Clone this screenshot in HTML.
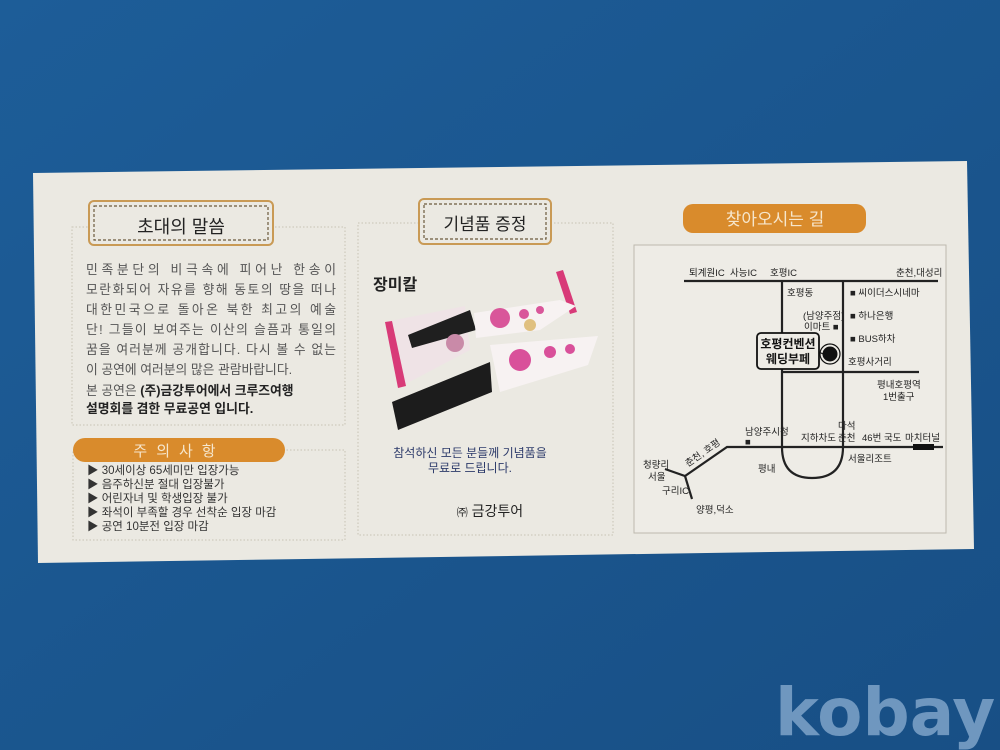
<!DOCTYPE html>
<html><head><meta charset="utf-8"><style>
html,body{margin:0;padding:0;width:1000px;height:750px;overflow:hidden;background:#1b5890}
svg{display:block}
text{font-family:"Liberation Sans","Noto Sans CJK KR","NanumGothic",sans-serif}
</style></head><body>
<svg width="1000" height="750" viewBox="0 0 1000 750" xmlns="http://www.w3.org/2000/svg">
<defs>
<linearGradient id="bg" x1="0" y1="0" x2="1" y2="1">
<stop offset="0" stop-color="#1d5d98"/><stop offset="1" stop-color="#184f85"/></linearGradient>
</defs>
<rect width="1000" height="750" fill="url(#bg)"/>
<text x="775" y="735" font-size="66" font-weight="bold" fill="#6f97bf" style="font-family:'DejaVu Sans',sans-serif">kobay</text>
<!-- card -->
<polygon points="33,173 967,161 974,549 38,563" fill="#ebe9e2"/>

<!-- LEFT -->
<rect x="72" y="227" width="273" height="198" fill="none" stroke="#c7c2b4" stroke-dasharray="1.5,2"/>
<rect x="89" y="201" width="184" height="44" rx="5" fill="#ebe9e2" stroke="#c99a55" stroke-width="2"/>
<rect x="94" y="206" width="174" height="34" fill="none" stroke="#6b5a3c" stroke-width="1.2" stroke-dasharray="3,2"/>
<text x="181" y="233" font-size="18" text-anchor="middle" fill="#222">초대의 말씀</text>
<g font-size="12.8" fill="#555">
<text x="86" y="274" textLength="250">민족분단의 비극속에 피어난 한송이</text>
<text x="86" y="294" textLength="250">모란화되어 자유를 향해 동토의 땅을 떠나</text>
<text x="86" y="314" textLength="250">대한민국으로 돌아온 북한 최고의 예술</text>
<text x="86" y="334" textLength="250">단! 그들이 보여주는 이산의 슬픔과 통일의</text>
<text x="86" y="354" textLength="250">꿈을 여러분께 공개합니다. 다시 볼 수 없는</text>
<text x="86" y="374">이 공연에 여러분의 많은 관람바랍니다.</text>
<text x="86" y="395">본 공연은 <tspan font-weight="bold" fill="#222">(주)금강투어에서 크루즈여행</tspan></text>
<text x="86" y="413" font-weight="bold" fill="#222">설명회를 겸한 무료공연 입니다.</text>
</g>
<rect x="73" y="450" width="272" height="90" fill="none" stroke="#c7c2b4" stroke-dasharray="1.5,2"/>
<rect x="73" y="438" width="212" height="24" rx="12" fill="#d98b2c"/>
<text x="179" y="456" font-size="15" text-anchor="middle" fill="#f6e6cc" letter-spacing="9">주의사항</text>
<g font-size="11.5" fill="#333">
<text x="87" y="474">▶ 30세이상 65세미만 입장가능</text>
<text x="87" y="488">▶ 음주하신분 절대 입장불가</text>
<text x="87" y="502">▶ 어린자녀 및 학생입장 불가</text>
<text x="87" y="516">▶ 좌석이 부족할 경우 선착순 입장 마감</text>
<text x="87" y="530">▶ 공연 10분전 입장 마감</text>
</g>

<!-- MIDDLE -->
<rect x="358" y="223" width="255" height="312" fill="none" stroke="#c7c2b4" stroke-dasharray="1.5,2"/>
<rect x="419" y="199" width="132" height="45" rx="5" fill="#ebe9e2" stroke="#c99a55" stroke-width="2"/>
<rect x="424" y="204" width="122" height="35" fill="none" stroke="#6b5a3c" stroke-width="1.2" stroke-dasharray="3,2"/>
<text x="485" y="230" font-size="17" text-anchor="middle" fill="#222">기념품 증정</text>
<text x="373" y="290" font-size="16" font-weight="bold" fill="#222">장미칼</text>
<!-- package -->
<polygon points="385,322 465,306 470,350 398,388" fill="#efe3e6"/>
<polygon points="385,322 392,321 406,386 398,388" fill="#d83a78"/>
<polygon points="556,272 563,270 577,312 570,314" fill="#d83a78"/>
<!-- upper knife -->
<polygon points="408,335 470,310 476,330 412,348" fill="#1f1f1f"/>
<polygon points="474,313 560,300 576,306 540,330 476,338" fill="#f7f2f2"/>
<circle cx="500" cy="318" r="10" fill="#d9569a"/><circle cx="524" cy="314" r="5" fill="#d9569a"/><circle cx="540" cy="310" r="4" fill="#d9569a"/>
<circle cx="455" cy="343" r="9" fill="#c98aa8"/><circle cx="530" cy="325" r="6" fill="#e0c080"/>
<!-- lower knife -->
<polygon points="490,345 598,336 588,365 500,392" fill="#f7f2f2"/>
<circle cx="520" cy="360" r="11" fill="#d9509a"/><circle cx="550" cy="352" r="6" fill="#d9509a"/><circle cx="570" cy="349" r="5" fill="#d9509a"/>
<polygon points="392,402 490,362 492,392 398,430" fill="#1c1c1c"/>

<text x="470" y="457" font-size="12" text-anchor="middle" fill="#2c3a6a">참석하신 모든 분들께 기념품을</text>
<text x="470" y="472" font-size="12" text-anchor="middle" fill="#2c3a6a">무료로 드립니다.</text>
<text x="490" y="516" font-size="14" text-anchor="middle" fill="#222"><tspan font-size="11">㈜</tspan> 금강투어</text>

<!-- RIGHT -->
<rect x="683" y="204" width="183" height="29" rx="10" fill="#d98b2c"/>
<text x="775" y="225" font-size="17" text-anchor="middle" fill="#f6e6cc">찾아오시는 길</text>
<rect x="634" y="245" width="312" height="288" fill="#eeece6" stroke="#bdb9ae"/>
<g stroke="#222" stroke-width="2.2" fill="none">
<line x1="684" y1="281" x2="938" y2="281"/>
<path d="M782,281 V447 Q782,478 812,478 Q843,478 843,447 V281"/>
<line x1="782" y1="372" x2="919" y2="372"/>
<polyline points="943,447 727,447 685,476 665,469"/>
<line x1="685" y1="476" x2="692" y2="499"/>
</g>
<rect x="913" y="444" width="21" height="6" fill="#111"/>
<circle cx="830" cy="354" r="8" fill="#111" stroke="#eeece6" stroke-width="1"/>
<circle cx="830" cy="354" r="10" fill="none" stroke="#111" stroke-width="1.2"/>
<line x1="819" y1="352" x2="823" y2="354" stroke="#111"/>
<rect x="757" y="333" width="62" height="36" rx="4" fill="#eeece6" stroke="#111" stroke-width="1.8"/>
<text x="788" y="348" font-size="12" font-weight="bold" text-anchor="middle" fill="#111">호평컨벤션</text>
<text x="788" y="363" font-size="12" font-weight="bold" text-anchor="middle" fill="#111">웨딩부페</text>
<g font-size="9.5" fill="#222">
<text x="689" y="276">퇴계원IC</text>
<text x="730" y="276">사능IC</text>
<text x="770" y="276">호평IC</text>
<text x="896" y="276">춘천,대성리</text>
<text x="787" y="296">호평동</text>
<text x="803" y="319">(남양주점)</text>
<text x="804" y="330">이마트 ■</text>
<text x="850" y="296">■ 씨이더스시네마</text>
<text x="850" y="319">■ 하나은행</text>
<text x="850" y="342">■ BUS하차</text>
<text x="848" y="365">호평사거리</text>
<text x="877" y="388">평내호평역</text>
<text x="883" y="400">1번출구</text>
<text x="745" y="435">남양주시청</text>
<text x="745" y="445">■</text>
<text x="801" y="441">지하차도</text>
<text x="838" y="429">마석</text>
<text x="838" y="441">춘천</text>
<text x="862" y="441">46번 국도</text>
<text x="905" y="441">마치터널</text>
<text x="848" y="462">서울리조트</text>
<text x="758" y="472">평내</text>
<text x="643" y="468">청량리</text>
<text x="648" y="480">서울</text>
<text x="662" y="494">구리IC</text>
<text x="696" y="513">양평,덕소</text>
<text x="688" y="467" transform="rotate(-35 688 467)">춘천, 호평</text>
</g>
</svg>
</body></html>
